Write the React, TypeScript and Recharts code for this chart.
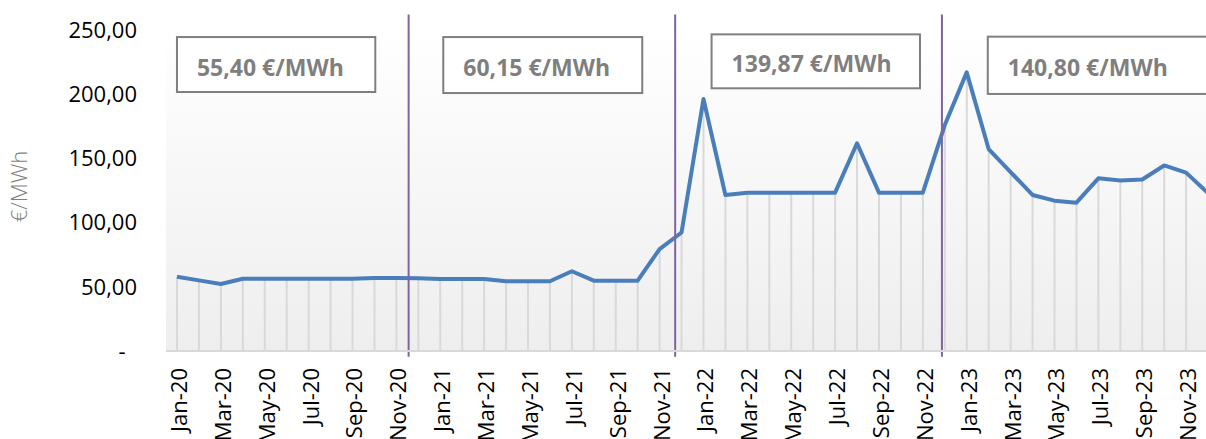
import React from 'react';
import {
  ComposedChart,
  Line,
  Bar,
  XAxis,
  YAxis,
  CartesianGrid,
  ReferenceLine,
  ReferenceArea,
} from 'recharts';

const months = [
  'Jan-20', 'Feb-20', 'Mar-20', 'Apr-20', 'May-20', 'Jun-20', 'Jul-20', 'Aug-20', 'Sep-20', 'Oct-20', 'Nov-20', 'Dec-20',
  'Jan-21', 'Feb-21', 'Mar-21', 'Apr-21', 'May-21', 'Jun-21', 'Jul-21', 'Aug-21', 'Sep-21', 'Oct-21', 'Nov-21', 'Dec-21',
  'Jan-22', 'Feb-22', 'Mar-22', 'Apr-22', 'May-22', 'Jun-22', 'Jul-22', 'Aug-22', 'Sep-22', 'Oct-22', 'Nov-22', 'Dec-22',
  'Jan-23', 'Feb-23', 'Mar-23', 'Apr-23', 'May-23', 'Jun-23', 'Jul-23', 'Aug-23', 'Sep-23', 'Oct-23', 'Nov-23', 'Dec-23',
];

const prices = [
  57.9, 55.0, 52.2, 56.3, 56.3, 56.3, 56.3, 56.3, 56.3, 56.8, 56.8, 56.6,
  56.1, 56.1, 56.1, 54.3, 54.3, 54.3, 62.1, 54.8, 54.8, 54.8, 79.4, 92.3,
  196.3, 121.5, 123.3, 123.3, 123.3, 123.3, 123.3, 161.8, 123.3, 123.3, 123.3, 176.0,
  217.0, 157.3, 139.4, 121.5, 117.1, 115.5, 134.5, 132.8, 133.6, 144.5, 138.9, 123.0,
];

const yTicks = [0, 50, 100, 150, 200, 250];
const labelTicks = [0, 2, 4, 6, 8, 10, 12, 14, 16, 18, 20, 22, 24, 26, 28, 30, 32, 34, 36, 38, 40, 42, 44, 46];
const markTicks = [-0.5, 1.5, 3.5, 5.5, 7.5, 9.5, 11.5, 13.5, 15.5, 17.5, 19.5, 21.5, 23.5, 25.5, 27.5, 29.5, 31.5, 33.5, 35.5, 37.5, 39.5, 41.5, 43.5, 45.5, 47.5];

// vertical period separators (month index positions)
const periodBreaks = [10.56, 22.71, 34.87];
const breakBottom = -4.5;
const breakTop = 262;

// period average annotations
const periodLabels = ['55,40 €/MWh', '60,15 €/MWh', '139,87 €/MWh', '140,80 €/MWh'];
const boxStart = [0, 12.14, 24.37, 36.96];
const boxEnd = [9.04, 21.21, 33.87, 47.3];
const boxTop = [244.5, 244.5, 246.6, 244.8];
const boxBottom = [201.7, 200.9, 204.6, 200.2];

const data = months.map((m, i) => ({ idx: i, month: m, price: prices[i] }));

const FONT = '"Open Sans", "Noto Sans", sans-serif';

const XTick = (props: any) => {
  const { x, y, payload } = props;
  const label = months[Math.round(payload.value)] ?? '';
  return (
    <text
      x={x}
      y={y}
      dy={10}
      transform={`rotate(-90 ${x} ${y})`}
      textAnchor="end"
      fill="#000"
      fontSize={22}
      fontFamily={FONT}
    >
      {label}
    </text>
  );
};

const fmtY = (v: number) => (v === 0 ? '-\u00a0\u00a0' : v.toFixed(2).replace('.', ','));

const AxisTitle = (props: any) => {
  const vb = props.viewBox || { x: 0, y: 30, width: 166, height: 321 };
  const cx = vb.x + 27;
  const cy = vb.y + vb.height / 2 - 4;
  return (
    <text
      x={cx}
      y={cy}
      transform={`rotate(-90 ${cx} ${cy})`}
      textAnchor="middle"
      fill="#7f7f7f"
      fontSize={22}
      fontFamily={FONT}
      fontWeight={300}
    >
      €/MWh
    </text>
  );
};

const makeBoxShape = (text: string) => (props: any) => {
  const { x, y, width, height } = props;
  return (
    <g>
      <rect x={x} y={y} width={width} height={height} fill="#ffffff" stroke="#7f7f7f" strokeWidth={2} />
      <text
        x={x + 20}
        y={y + height / 2 + 11}
        fill="#7f7f7f"
        fontSize={23}
        fontWeight={700}
        fontFamily={FONT}
      >
        {text}
      </text>
    </g>
  );
};

export default function App() {
  return (
    <div
      style={{
        position: 'absolute',
        left: 0,
        top: 0,
        width: 1206,
        height: 439,
        overflow: 'hidden',
        background: '#ffffff',
      }}
    >
      <ComposedChart
        width={1230}
        height={439}
        data={data}
        margin={{ top: 30, right: 11, bottom: 0, left: 0 }}
      >
        <defs>
          <linearGradient id="plotBg" x1="0" y1="0" x2="0" y2="1">
            <stop offset="0%" stopColor="#ffffff" />
            <stop offset="100%" stopColor="#eeeeee" />
          </linearGradient>
        </defs>
        <CartesianGrid xAxisId="b" horizontal={false} vertical={false} fill="url(#plotBg)" stroke="none" />
        <XAxis
          xAxisId="a"
          type="number"
          dataKey="idx"
          domain={[-0.5, 47.5]}
          allowDataOverflow
          ticks={markTicks}
          interval={0}
          height={1}
          tick={false}
          tickSize={6}
          axisLine={{ stroke: '#d9d9d9', strokeWidth: 2 }}
          tickLine={{ stroke: '#d9d9d9', strokeWidth: 2 }}
        />
        <XAxis
          xAxisId="b"
          type="number"
          dataKey="idx"
          domain={[-0.5, 47.5]}
          allowDataOverflow
          ticks={labelTicks}
          interval={0}
          height={87}
          axisLine={false}
          tickLine={false}
          tickSize={6}
          tickMargin={10}
          tick={<XTick />}
        />
        <YAxis
          type="number"
          domain={[0, 250]}
          ticks={yTicks}
          interval={0}
          width={166}
          axisLine={false}
          tickLine={false}
          tickSize={6}
          tickMargin={23}
          tickFormatter={fmtY}
          tick={{ fill: '#000000', fontSize: 22, fontFamily: FONT }}
          label={<AxisTitle />}
        />
        <Bar xAxisId="b" dataKey="price" barSize={2} fill="#d9d9d9" isAnimationActive={false} />
        <Line
          xAxisId="b"
          type="linear"
          dataKey="price"
          stroke="#4a7ebb"
          strokeWidth={4}
          strokeLinejoin="round"
          dot={false}
          activeDot={false}
          isAnimationActive={false}
        />
        {periodBreaks.map((b, i) => (
          <ReferenceLine
            key={`brk-${i}`}
            xAxisId="b"
            segment={[
              { x: b, y: breakBottom },
              { x: b, y: breakTop },
            ]}
            stroke="#8064a2"
            strokeWidth={2}
            ifOverflow="visible"
          />
        ))}
        {periodLabels.map((t, i) => (
          <ReferenceArea
            key={`box-${i}`}
            xAxisId="b"
            x1={boxStart[i]}
            x2={boxEnd[i]}
            y1={boxBottom[i]}
            y2={boxTop[i]}
            ifOverflow="visible"
            shape={makeBoxShape(t)}
          />
        ))}
      </ComposedChart>
    </div>
  );
}
